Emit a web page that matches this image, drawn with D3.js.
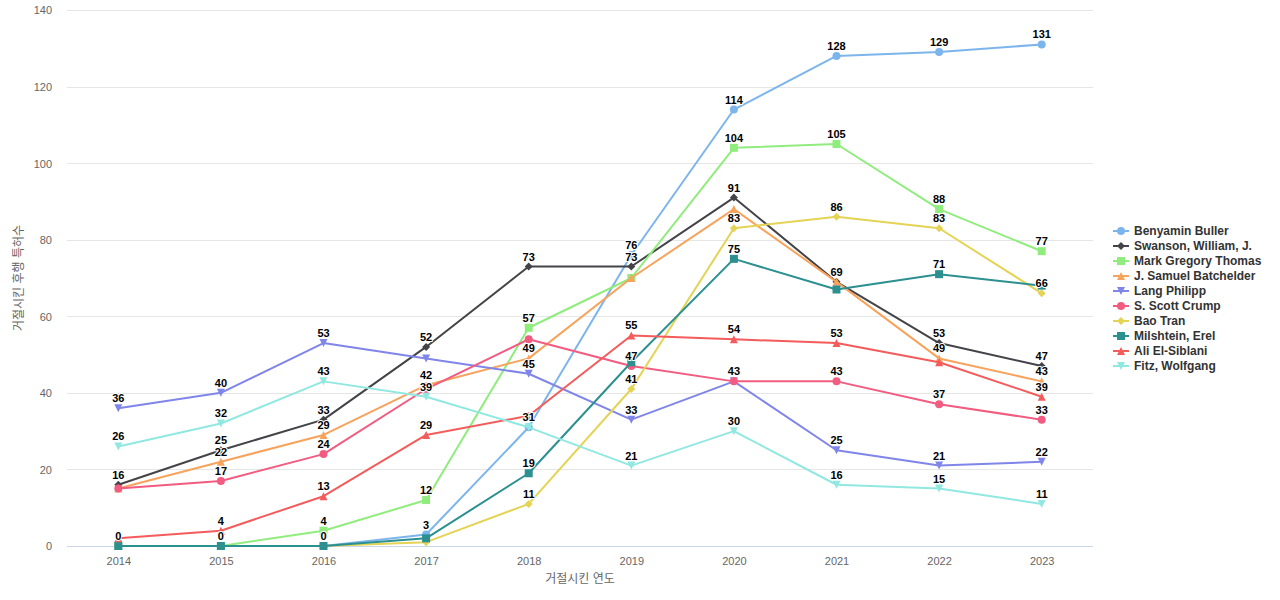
<!DOCTYPE html>
<html>
<head>
<meta charset="utf-8">
<script src="https://cdn.jsdelivr.net/npm/d3@7"></script>
<style>
  html, body { margin: 0; padding: 0; background: #ffffff; }
  svg { display: block; font-family: "Liberation Sans", Arial, "Noto Sans CJK KR", sans-serif; }
</style>
</head>
<body>
<svg id="chart" width="1280" height="600"></svg>
<script>
// ---- data ----
const years = ["2014", "2015", "2016", "2017", "2018", "2019", "2020", "2021", "2022", "2023"];
const seriesNames = ["Benyamin Buller", "Swanson, William, J.", "Mark Gregory Thomas", "J. Samuel Batchelder",
  "Lang Philipp", "S. Scott Crump", "Bao Tran", "Milshtein, Erel", "Ali El-Siblani", "Fitz, Wolfgang"];
const buller     = [0, 0, 0, 3, 31, 76, 114, 128, 129, 131];
const swanson    = [16, 25, 33, 52, 73, 73, 91, 69, 53, 47];
const thomas     = [0, 0, 4, 12, 57, 70, 104, 105, 88, 77];
const batchelder = [15, 22, 29, 42, 49, 70, 88, 69, 49, 43];
const lang       = [36, 40, 53, 49, 45, 33, 43, 25, 21, 22];
const crump      = [15, 17, 24, 41, 54, 47, 43, 43, 37, 33];
const baoTran    = [0, 0, 0, 1, 11, 41, 83, 86, 83, 66];
const milshtein  = [0, 0, 0, 2, 19, 48, 75, 67, 71, 68];
const elSiblani  = [2, 4, 13, 29, 34, 55, 54, 53, 48, 39];
const fitz       = [26, 32, 43, 39, 31, 21, 30, 16, 15, 11];
const yTicks = [0, 20, 40, 60, 80, 100, 120, 140];
const yTitle = "거절시킨 후행 특허수";
const xTitle = "거절시킨 연도";

const seriesValues = [buller, swanson, thomas, batchelder, lang, crump, baoTran, milshtein, elSiblani, fitz];
const colors = ["#7cb5ec", "#434348", "#90ed7d", "#f7a35c", "#8085e9", "#f15c80", "#e4d354", "#2b908f", "#f45b5b", "#91e8e1"];
const symbols = ["circle", "diamond", "square", "triangle", "triangle-down"];

// ---- layout ----
const svg = d3.select("#chart");
const plot = { left: 67, right: 1093, top: 10, bottom: 546 };

const x = d3.scalePoint().domain(years).range([plot.left, plot.right]).padding(0.5);
const y = d3.scaleLinear().domain([0, 140]).range([plot.bottom, plot.top]);

// grid lines
const grid = svg.append("g");
grid.selectAll("line").data(yTicks.filter(d => d !== 0)).join("line")
  .attr("x1", plot.left).attr("x2", plot.right)
  .attr("y1", d => Math.round(y(d)) + 0.5).attr("y2", d => Math.round(y(d)) + 0.5)
  .attr("stroke", "#e6e6e6").attr("stroke-width", 1);

// y axis
const yAxis = d3.axisLeft(y).tickValues(yTicks).tickSize(0).tickPadding(0);
const yG = svg.append("g").attr("transform", `translate(${plot.left - 15},0)`).call(yAxis);
yG.select(".domain").remove();
yG.selectAll("text").attr("fill", "#666666").style("font-size", "11px")
  .style("font-family", "Liberation Sans, Arial, sans-serif").attr("dy", "0.35em");

// x axis
const xAxis = d3.axisBottom(x).tickSize(0).tickPadding(0);
const xG = svg.append("g").attr("transform", `translate(0,${plot.bottom})`).call(xAxis);
xG.select(".domain").attr("d", `M${plot.left},0.5H${plot.right}`).attr("stroke", "#ccd6eb").attr("stroke-width", 1);
xG.selectAll("text").attr("fill", "#666666").style("font-size", "11px")
  .style("font-family", "Liberation Sans, Arial, sans-serif").attr("y", 19).attr("dy", 0);

// axis titles
svg.append("text").attr("x", (plot.left + plot.right) / 2).attr("y", 583)
  .attr("text-anchor", "middle").attr("fill", "#666666").style("font-size", "12px").text(xTitle);
svg.append("text").attr("transform", `translate(23,${(plot.top + plot.bottom) / 2}) rotate(-90)`)
  .attr("text-anchor", "middle").attr("fill", "#666666").style("font-size", "12px").text(yTitle);

// symbol paths (Highcharts-like, radius 4)
function symbolPath(type, cx, cy, r) {
  const x0 = cx - r, y0 = cy - r, w = 2 * r, h = 2 * r;
  switch (type) {
    case "circle": return `M${cx - r},${cy}a${r},${r} 0 1,0 ${w},0a${r},${r} 0 1,0 ${-w},0Z`;
    case "diamond": return `M${cx},${y0}L${x0 + w},${cy}L${cx},${y0 + h}L${x0},${cy}Z`;
    case "square": return `M${x0},${y0}H${x0 + w}V${y0 + h}H${x0}Z`;
    case "triangle": return `M${cx},${y0}L${x0 + w},${y0 + h}L${x0},${y0 + h}Z`;
    case "triangle-down": return `M${x0},${y0}L${x0 + w},${y0}L${cx},${y0 + h}Z`;
  }
}

const series = seriesNames.map((name, i) => ({
  name, color: colors[i], symbol: symbols[i % symbols.length],
  points: years.map((yr, j) => ({ year: yr, value: seriesValues[i][j] }))
}));

const line = d3.line().x(d => x(d.year)).y(d => y(d.value));

const seriesG = svg.append("g");
series.forEach(s => {
  const g = seriesG.append("g");
  g.append("path").datum(s.points).attr("d", line)
    .attr("fill", "none").attr("stroke", s.color).attr("stroke-width", 2)
    .attr("stroke-linejoin", "round").attr("stroke-linecap", "round");
  g.selectAll("path.m").data(s.points).join("path").attr("class", "m")
    .attr("d", d => symbolPath(s.symbol, x(d.year), y(d.value), 4))
    .attr("fill", s.color);
});

// data labels with overlap hiding (series order priority)
const labelsG = svg.append("g");
const shown = [];
series.forEach(s => {
  s.points.forEach(d => {
    const lx = x(d.year), ly = Math.round(y(d.value));
    const txt = String(d.value);
    const w = txt.length * 6.2;
    const overlaps = shown.some(o => Math.abs(o.y - ly) < 12 && Math.abs(o.x - lx) < (o.w + w) / 2);
    if (overlaps) return;
    shown.push({ x: lx, y: ly, w });
    labelsG.append("text")
      .attr("x", lx).attr("y", ly - 6)
      .attr("text-anchor", "middle")
      .style("font-size", "11px").style("font-weight", "bold")
      .attr("fill", "#000000")
      .attr("stroke", "#ffffff").attr("stroke-width", 2).attr("stroke-linejoin", "round")
      .style("paint-order", "stroke")
      .text(txt);
  });
});

// legend
const legend = svg.append("g").attr("transform", "translate(1113,231)");
series.forEach((s, i) => {
  const g = legend.append("g").attr("transform", `translate(0,${i * 15})`);
  g.append("line").attr("x1", 0).attr("x2", 16).attr("y1", 0).attr("y2", 0)
    .attr("stroke", s.color).attr("stroke-width", 2);
  g.append("path").attr("d", symbolPath(s.symbol, 8, 0, 4)).attr("fill", s.color);
  g.append("text").attr("x", 21).attr("y", 0).attr("dy", "0.35em")
    .style("font-size", "12px").style("font-weight", "bold").attr("fill", "#333333")
    .text(s.name);
});
</script>
</body>
</html>
